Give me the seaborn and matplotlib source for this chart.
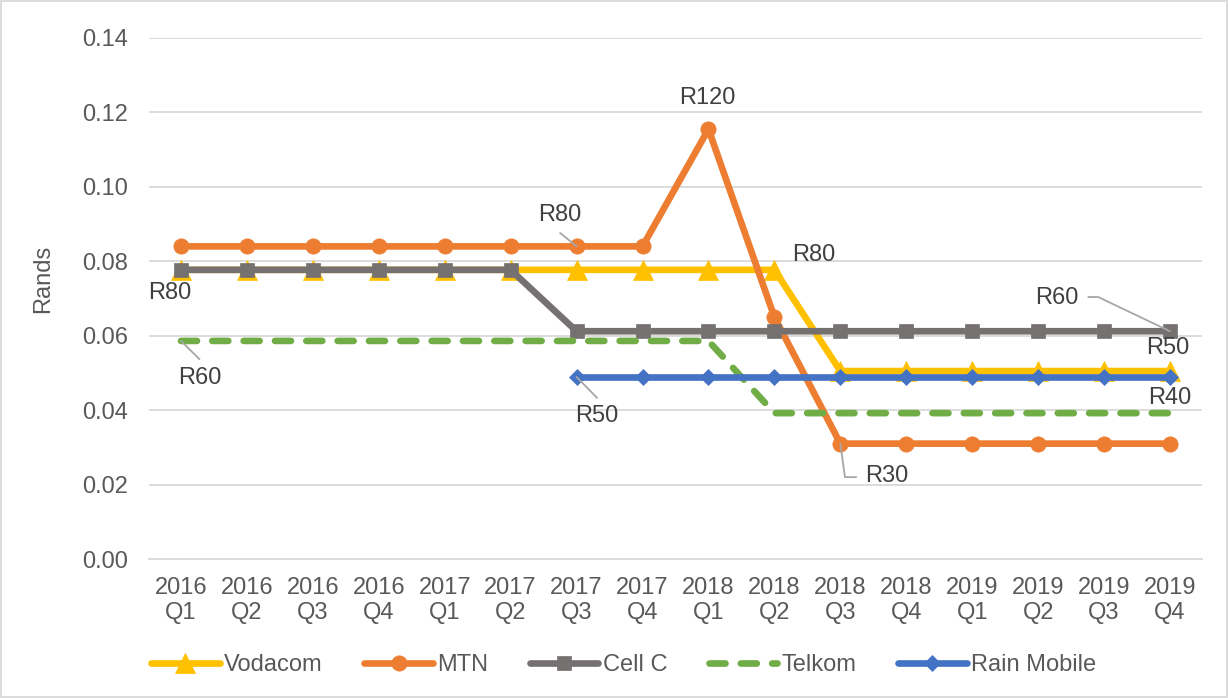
import numpy as np
import pandas as pd
import matplotlib
matplotlib.use("Agg")
import matplotlib.pyplot as plt
import seaborn as sns
from matplotlib.patches import Rectangle

quarters = ["2016\nQ1", "2016\nQ2", "2016\nQ3", "2016\nQ4",
            "2017\nQ1", "2017\nQ2", "2017\nQ3", "2017\nQ4",
            "2018\nQ1", "2018\nQ2", "2018\nQ3", "2018\nQ4",
            "2019\nQ1", "2019\nQ2", "2019\nQ3", "2019\nQ4"]
vodacom = [0.0777, 0.0777, 0.0777, 0.0777, 0.0777, 0.0777, 0.0777, 0.0777,
           0.0777, 0.0777, 0.0505, 0.0505, 0.0505, 0.0505, 0.0505, 0.0505]
mtn = [0.084, 0.084, 0.084, 0.084, 0.084, 0.084, 0.084, 0.084,
       0.1155, 0.065, 0.031, 0.031, 0.031, 0.031, 0.031, 0.031]
cellc = [0.0777, 0.0777, 0.0777, 0.0777, 0.0777, 0.0777, 0.0612, 0.0612,
         0.0612, 0.0612, 0.0612, 0.0612, 0.0612, 0.0612, 0.0612, 0.0612]
telkom = [0.0586, 0.0586, 0.0586, 0.0586, 0.0586, 0.0586, 0.0586, 0.0586,
          0.0586, 0.0392, 0.0392, 0.0392, 0.0392, 0.0392, 0.0392, 0.0392]
rain = [np.nan, np.nan, np.nan, np.nan, np.nan, np.nan, 0.0489, 0.0489,
        0.0489, 0.0489, 0.0489, 0.0489, 0.0489, 0.0489, 0.0489, 0.0489]
y_ticks = [0.00, 0.02, 0.04, 0.06, 0.08, 0.10, 0.12, 0.14]

# data labels: (text, text x, text y)
labels = [
    ("R80", -0.17, 0.0715),
    ("R60", 0.29, 0.0486),
    ("R50", 6.31, 0.0384),
    ("R80", 5.75, 0.0924),
    ("R120", 7.99, 0.1239),
    ("R80", 9.6, 0.0817),
    ("R30", 10.71, 0.0223),
    ("R60", 13.29, 0.0700),
    ("R50", 14.97, 0.0567),
    ("R40", 15.0, 0.0433),
]
# leader lines: (series index, point index, list of bend/end points)
leaders = [
    (3, 0, [(0.28, 0.0537)]),
    (4, 6, [(6.31, 0.0433)]),
    (1, 6, [(5.75, 0.0876)]),
    (1, 10, [(10.07, 0.0220), (10.24, 0.0220)]),
    (2, 15, [(13.91, 0.0704), (13.76, 0.0704)]),
]

sns.set_theme(style="white")
plt.rcParams["font.family"] = ["Liberation Sans", "DejaVu Sans"]

names = ["Vodacom", "MTN", "Cell C", "Telkom", "Rain Mobile"]
series = [vodacom, mtn, cellc, telkom, rain]
colors = ["#FFC000", "#ED7D31", "#767171", "#70AD47", "#4472C4"]
markers = ["^", "o", "s", None, "D"]
msizes = [14.5, 11, 10.5, 0, 8.5]

fig = plt.figure(figsize=(12.28, 6.98), dpi=100)
ax = fig.add_axes([149 / 1228, 1 - 559 / 698, 1053 / 1228, 521 / 698])

x = np.arange(len(quarters))
for name, vals, c, m, ms in zip(names, series, colors, markers, msizes):
    df = pd.DataFrame({"x": x, "y": vals}).dropna()
    kw = dict(color=c, linewidth=4.8, label=name, ax=ax)
    if m is not None:
        kw.update(marker=m, markersize=ms, markeredgecolor=c, markeredgewidth=0.5,
                  markerfacecolor=c)
    else:
        kw.update(linestyle=(0, (2.4, 2.3)), dash_capstyle="round")
    sns.lineplot(data=df, x="x", y="y", **kw)

ax.set_xlim(-0.485, 15.485)
ax.set_ylim(0, 0.14)
ax.set_yticks(y_ticks)
ax.set_yticklabels([f"{v:.2f}" for v in y_ticks])
ax.set_xticks(x)
ax.set_xticklabels(quarters, linespacing=1.15)
ax.tick_params(axis="both", length=0, labelsize=17, labelcolor="#595959")
ax.tick_params(axis="y", pad=15)
ax.tick_params(axis="x", pad=13)
ax.grid(axis="y", color="#D9D9D9", linewidth=1.3)
ax.grid(axis="x", visible=False)
for s in ["top", "right", "left"]:
    ax.spines[s].set_visible(False)
ax.spines["bottom"].set_color("#D9D9D9")
ax.spines["bottom"].set_linewidth(1.3)
ax.set_axisbelow(True)
ax.set_xlabel("")
ax.set_ylabel("Rands", fontsize=17, color="#595959", va="center", ha="center")
ax.yaxis.set_label_coords(-0.101, 0.537)

for si, pi, pts in leaders:
    xs = [x[pi]] + [p[0] for p in pts]
    ys = [series[si][pi]] + [p[1] for p in pts]
    ax.plot(xs, ys, color="#A6A6A6", linewidth=1.3, zorder=5)

for txt, tx, ty in labels:
    ax.text(tx, ty, txt, ha="center", va="center", fontsize=17, color="#404040",
            zorder=6)

leg = ax.get_legend()
if leg is not None:
    leg.remove()
handles, lbls = ax.get_legend_handles_labels()
handles, lbls = handles[:5], lbls[:5]
fig.legend(handles, lbls, loc="center", bbox_to_anchor=(0.508, 1 - 665 / 698),
           ncol=5, frameon=False, fontsize=17, handlelength=2.9,
           handletextpad=0.2, columnspacing=1.75, labelcolor="#595959")

fig.patches.append(Rectangle((0.001, 0.001), 0.998, 0.997, transform=fig.transFigure,
                             fill=False, edgecolor="#D9D9D9", linewidth=1.3))
fig.savefig("out.png", dpi=100)
